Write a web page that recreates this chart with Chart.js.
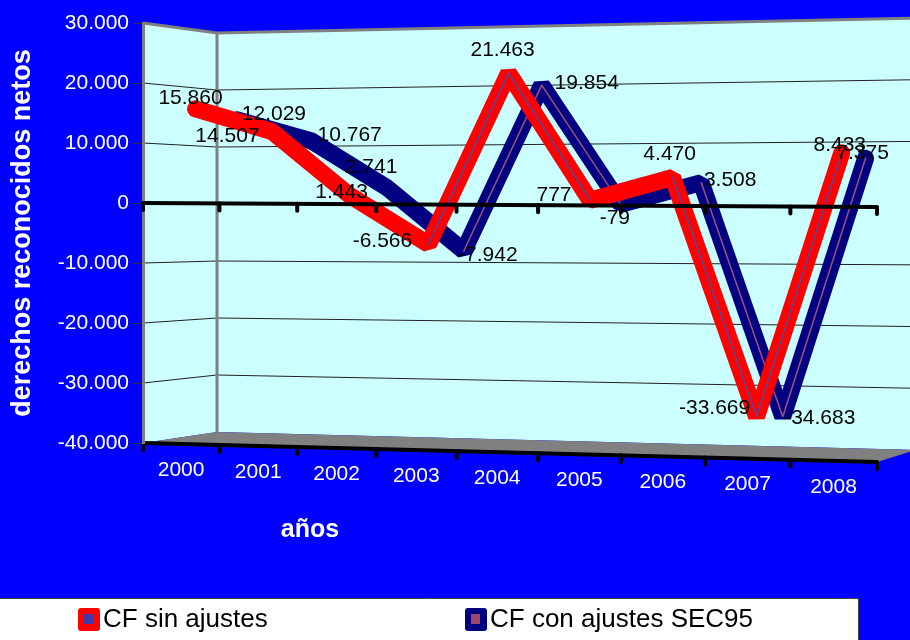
<!DOCTYPE html>
<html>
<head>
<meta charset="utf-8">
<script src="https://cdn.jsdelivr.net/npm/chart.js@4.4.1/dist/chart.umd.min.js"></script>
<style>
    html, body { margin: 0; padding: 0; background: #0000ff; }
    canvas { display: block; }
</style>
</head>
<body>
<canvas class="chart_cf" width="910" height="640"></canvas>
<script>
'use strict';

const years = ['2000', '2001', '2002', '2003', '2004', '2005', '2006', '2007', '2008'];
const cfSinAjustes = [15860, 12029, 1443, -6566, 21463, 777, 4470, -33669, 8433];
const cfConAjustes = [14507, 10767, 2741, -7942, 19854, -79, 3508, -34683, 7375];
const yTickValues = [30000, 20000, 10000, 0, -10000, -20000, -30000, -40000];

// where each value label sits, relative to its point (px)
const nudgeSin = [[-5, -11], [2, -17], [-8, -3], [-46, -3], [-6, -23], [-36, -5], [-3, -23], [-42, -8], [-2, -8]];
const nudgeCon = [[-10, 16], [38, -6], [-16, -21], [24, 4], [45, -2], [-6, 14], [29, -2], [37, 1], [-3, -5]];

const FONT = "'Liberation Sans', Arial, sans-serif";
Chart.defaults.font.family = FONT;

// 3D box: front plane = chart area (right edge tilted), back wall offset from it
const PERSPECTIVE = 0.07;
const FRONT_TILT = { tr: -7.25, br: 19 };
const BACK = { tl: [74, 10], tr: [39, -5], bl: [74, -11], br: [39, 7] };

function fmt(v) {
    const s = Math.abs(v).toString().replace(/\B(?=(\d{3})+(?!\d))/g, '.');
    return (v < 0 ? '-' : '') + s;
}

function lerp(a, b, t) {
    return [a[0] + (b[0] - a[0]) * t, a[1] + (b[1] - a[1]) * t];
}

function planePoint(area, back, u, v) {
    const w = u * (1 - PERSPECTIVE + PERSPECTIVE * u);
    let tl, tr, bl, br;
    if (back) {
        tl = [area.left + BACK.tl[0], area.top + BACK.tl[1]];
        tr = [area.right + BACK.tr[0], area.top + BACK.tr[1]];
        bl = [area.left + BACK.bl[0], area.bottom + BACK.bl[1]];
        br = [area.right + BACK.br[0], area.bottom + BACK.br[1]];
    } else {
        tl = [area.left, area.top];
        tr = [area.right, area.top + FRONT_TILT.tr];
        bl = [area.left, area.bottom];
        br = [area.right, area.bottom + FRONT_TILT.br];
    }
    return lerp(lerp(tl, tr, w), lerp(bl, br, w), v);
}

function project(area, u, v, depth) {
    return lerp(planePoint(area, false, u, v), planePoint(area, true, u, v), depth);
}

function uOf(chart, px) {
    const a = chart.chartArea;
    return (px - a.left) / a.width;
}

function vOf(chart, value) {
    const a = chart.chartArea;
    return (chart.scales.y.getPixelForValue(value) - a.top) / a.height;
}

// category boundaries along the front plane
function boundaries(chart) {
    const out = [];
    for (let k = 0; k <= years.length; k++) {
        out.push(uOf(chart, chart.scales.x.getPixelForValue(k - 0.5)));
    }
    return out;
}

function polygon(c, pts, fill) {
    c.beginPath();
    c.moveTo(pts[0][0], pts[0][1]);
    pts.slice(1).forEach(p => c.lineTo(p[0], p[1]));
    c.closePath();
    c.fillStyle = fill;
    c.fill();
}

function line(c, pts, color, width) {
    c.beginPath();
    c.moveTo(pts[0][0], pts[0][1]);
    pts.slice(1).forEach(p => c.lineTo(p[0], p[1]));
    c.strokeStyle = color;
    c.lineWidth = width;
    c.stroke();
}

function axisWithTicks(chart, v) {
    const c = chart.ctx;
    const area = chart.chartArea;
    line(c, [planePoint(area, false, 0, v), planePoint(area, false, 1, v)], '#000000', 4);
    c.lineCap = 'round';
    boundaries(chart).forEach(u => {
        const p = planePoint(area, false, u, v);
        line(c, [[p[0], p[1]], [p[0], p[1] + 7]], '#000000', 4);
    });
    c.lineCap = 'butt';
}

const perspective = {
    id: 'perspective',
    afterDatasetsUpdate(chart) {
        const xs = chart.scales.x;
        chart.data.datasets.forEach((ds, i) => {
            chart.getDatasetMeta(i).data.forEach((pt, j) => {
                const p = project(chart.chartArea, uOf(chart, xs.getPixelForValue(j)), vOf(chart, ds.data[j]), ds.depth);
                pt.x = p[0];
                pt.y = p[1];
            });
        });
    }
};

const box3d = {
    id: 'box3d',
    beforeDraw(chart) {
        const c = chart.ctx;
        const area = chart.chartArea;
        const F = (u, v) => planePoint(area, false, u, v);
        const B = (u, v) => planePoint(area, true, u, v);
        c.save();
        c.fillStyle = '#0000ff';
        c.fillRect(0, 0, chart.width, chart.height);

        // side wall and back wall
        polygon(c, [F(0, 0), B(0, 0), B(0, 1), F(0, 1)], '#ccffff');
        polygon(c, [B(0, 0), B(1, 0), B(1, 1), B(0, 1)], '#ccffff');

        yTickValues.forEach(t => {
            if (t === 0 || t === 30000 || t === -40000) return;
            const v = vOf(chart, t);
            line(c, [F(0, v), B(0, v), B(1, v)], '#202020', 1);
        });

        // floor
        polygon(c, [F(0, 1), B(0, 1), B(1, 1), F(1, 1)], '#808080');

        // box edges
        line(c, [F(0, 0), B(0, 0), B(1, 0)], '#808080', 3);
        line(c, [B(0, 0), B(0, 1)], '#808080', 3);

        axisWithTicks(chart, 1);

        // year labels under the floor edge
        c.fillStyle = '#ffffff';
        c.font = '21px ' + FONT;
        c.textAlign = 'center';
        c.textBaseline = 'middle';
        years.forEach((y, i) => {
            const p = F(uOf(chart, chart.scales.x.getPixelForValue(i)), 1);
            c.fillText(y, p[0], p[1] + 26);
        });
        c.restore();
    },
    afterDatasetsDraw(chart) {
        const c = chart.ctx;
        c.save();
        // value labels
        c.fillStyle = '#000000';
        c.font = '21px ' + FONT;
        c.textAlign = 'center';
        c.textBaseline = 'middle';
        chart.data.datasets.forEach((ds, i) => {
            if (!ds.nudges) return;
            chart.getDatasetMeta(i).data.forEach((pt, j) => {
                const n = ds.nudges[j];
                c.fillText(fmt(ds.data[j]), pt.x + n[0], pt.y + n[1]);
            });
        });
        axisWithTicks(chart, vOf(chart, 0));
        c.restore();
    },
    afterDraw(chart) {
        const c = chart.ctx;
        c.save();
        // axis title
        c.fillStyle = '#ffffff';
        c.font = 'bold 25px ' + FONT;
        c.textAlign = 'center';
        c.textBaseline = 'middle';
        c.fillText('años', 310, 530);

        // legend
        c.fillStyle = '#ffffff';
        c.fillRect(0, 598, 858, 50);
        line(c, [[0, 598.5], [858.5, 598.5], [858.5, 640]], '#404040', 1);
        const xs = [78, 465];
        let k = 0;
        chart.data.datasets.forEach(ds => {
            if (!ds.nudges) return;
            const x = xs[k++];
            c.fillStyle = ds.borderColor;
            c.beginPath();
            c.roundRect(x, 608, 22, 23, 3);
            c.fill();
            c.fillStyle = ds.markColor;
            c.fillRect(x + 6, 614, 9, 10);
            c.fillStyle = '#000000';
            c.font = '26px ' + FONT;
            c.textAlign = 'left';
            c.fillText(ds.label, x + 25, 620);
        });
        c.restore();
    }
};

const steepOnly = (color) => (s) =>
    Math.abs(s.p1.y - s.p0.y) > Math.abs(s.p1.x - s.p0.x) ? color : 'rgba(0,0,0,0)';

const ctx = document.querySelector('.chart_cf');
new Chart(ctx, {
    type: 'line',
    data: {
        labels: years,
        datasets: [{
            label: 'CF sin ajustes',
            data: cfSinAjustes,
            borderColor: '#ff0000',
            borderWidth: 17,
            depth: 0.2,
            order: 1,
            markColor: '#3a3aa8',
            nudges: nudgeSin
        }, {
            label: 'CF sin ajustes (filo)',
            data: cfSinAjustes,
            borderColor: '#4a4aa6',
            borderWidth: 1.5,
            depth: 0.2,
            order: 0,
            segment: { borderColor: steepOnly('#4a4aa6') }
        }, {
            label: 'CF con ajustes SEC95',
            data: cfConAjustes,
            borderColor: '#000080',
            borderWidth: 17,
            depth: 0.78,
            order: 3,
            markColor: '#a0446e',
            nudges: nudgeCon
        }, {
            label: 'CF con ajustes SEC95 (filo)',
            data: cfConAjustes,
            borderColor: '#a0507a',
            borderWidth: 1.5,
            depth: 0.78,
            order: 2,
            segment: { borderColor: steepOnly('#a0507a') }
        }]
    },
    options: {
        responsive: false,
        devicePixelRatio: 1,
        animation: false,
        events: [],
        layout: { padding: { top: 23, right: 33, bottom: 197, left: 0 } },
        elements: {
            point: { radius: 0 },
            line: { tension: 0, borderJoinStyle: 'bevel', borderCapStyle: 'round', fill: false }
        },
        datasets: { line: { clip: false } },
        scales: {
            x: { type: 'category', offset: true, display: false },
            y: {
                min: -40000,
                max: 30000,
                afterBuildTicks: (scale) => { scale.ticks = yTickValues.map(v => ({ value: v })); },
                afterFit: (scale) => { scale.width = 143; },
                grid: { drawOnChartArea: false, drawTicks: true, tickLength: 10, color: '#303030' },
                border: { display: true, color: '#808080', width: 3 },
                ticks: { color: '#ffffff', font: { size: 21 }, padding: 4, callback: (v) => fmt(v) },
                title: {
                    display: true,
                    text: 'derechos reconocidos netos',
                    color: '#ffffff',
                    font: { size: 27, weight: 'bold' },
                    padding: { top: 6, bottom: 0 }
                }
            }
        },
        plugins: {
            legend: { display: false },
            tooltip: { enabled: false }
        }
    },
    plugins: [perspective, box3d]
});
</script>
</body>
</html>
